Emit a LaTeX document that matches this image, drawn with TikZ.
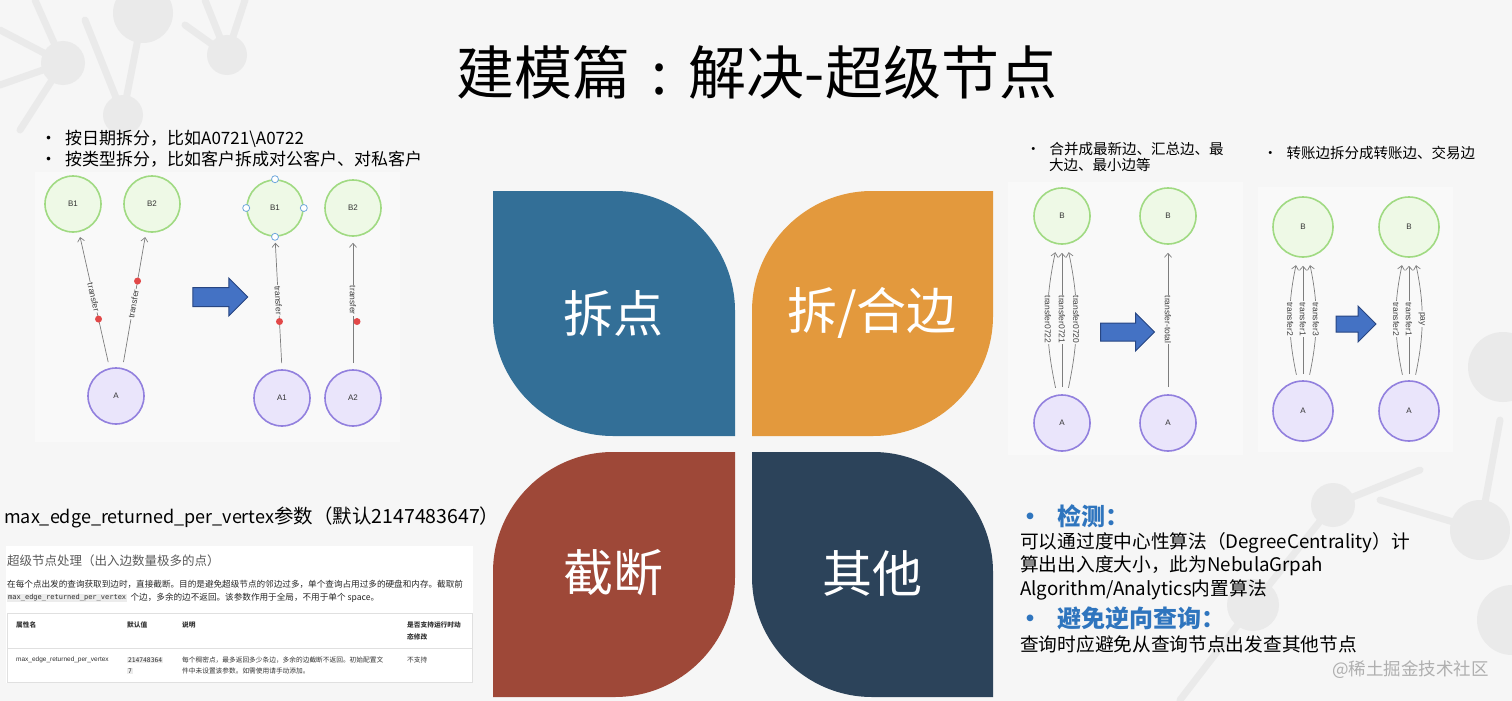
\documentclass[tikz,border=0pt]{standalone}
\usepackage{fontspec}
\setmainfont{Noto Sans CJK SC}
\newfontfamily\lat{Liberation Sans}
\newfontfamily\monof{DejaVu Sans Mono}
\usetikzlibrary{calc,arrows.meta,shapes.arrows}
\definecolor{bg}{RGB}{246,246,246}
\definecolor{panel}{RGB}{249,249,249}
\definecolor{mol}{RGB}{234,234,234}
\definecolor{pblue}{RGB}{51,111,151}
\definecolor{porange}{RGB}{227,153,61}
\definecolor{pred}{RGB}{158,72,56}
\definecolor{pnavy}{RGB}{44,67,90}
\definecolor{nodegreen}{RGB}{160,218,130}
\definecolor{nodegreenfill}{RGB}{238,249,230}
\definecolor{nodepurple}{RGB}{146,128,222}
\definecolor{nodepurplefill}{RGB}{234,229,251}
\definecolor{edgegray}{RGB}{125,125,125}
\definecolor{dotred}{RGB}{226,72,72}
\definecolor{handleblue}{RGB}{111,168,220}
\definecolor{arrowblue}{RGB}{68,114,196}
\definecolor{arrowdark}{RGB}{40,70,130}
\definecolor{headblue}{RGB}{47,117,190}
\definecolor{wmgray}{RGB}{175,175,175}
\definecolor{tgray}{RGB}{90,90,90}
\definecolor{codebg}{RGB}{236,236,236}
\tikzset{
  gnode/.style={circle, minimum size=56pt, inner sep=0pt, line width=1.6pt, font=\lat\fontsize{8}{9}\selectfont, text=black!80},
  gB/.style={gnode, draw=nodegreen, fill=nodegreenfill},
  gA/.style={gnode, draw=nodepurple, fill=nodepurplefill},
  edge/.style={draw=edgegray, line width=0.7pt, -{Straight Barb[length=4pt,width=7pt]}},
  elabel/.style={font=\lat\fontsize{8.5}{9}\selectfont, text=black!75, fill=panel, inner sep=1pt},
  reddot/.style={circle, fill=dotred, minimum size=7pt, inner sep=0pt},
  handle/.style={circle, draw=handleblue, fill=white, line width=0.8pt, minimum size=7pt, inner sep=0pt},
  bigarrow/.style={single arrow, fill=arrowblue, draw=arrowdark, line width=1pt},
  petaltext/.style={text=white, font=\fontsize{50}{54}\selectfont},
  txt/.style={anchor=west, inner sep=0pt, text=black},
  tbl/.style={anchor=west, inner sep=0pt, text=black!80, font=\fontsize{6.7}{8}\selectfont},
}
\begin{document}
\begin{tikzpicture}[x=1pt,y=-1pt]
\useasboundingbox (0,0) rectangle (1512,701);
\fill[bg] (0,0) rectangle (1512,701);
% faint background molecules
\begin{scope}[mol, line width=7pt, line cap=round]
  \draw (143,13) -- (123,115);
  \draw (63,63) -- (0,30);
  \draw (63,63) -- (0,85);
  \draw (63,63) -- (35,0);
  \draw (63,63) -- (20,130);
  \draw (227,55) -- (205,0);
  \draw (227,55) -- (245,0);
  \draw (227,55) -- (185,25);
  \draw (123,115) -- (85,20);
  \draw (1480,530) -- (1380,500);
  \draw (1480,530) -- (1500,420);
  \draw (1253,605) -- (1333,505);
  \draw (1253,605) -- (1180,700);
  \draw (1333,505) -- (1420,470);
  \fill (143,13) circle (30);
  \fill (227,55) circle (20);
  \fill (63,63) circle (22);
  \fill (123,115) circle (20);
  \fill (1503,367) circle (35);
  \fill (1480,530) circle (30);
  \fill (1512,620) circle (35);
  \fill (1253,605) circle (26);
  \fill (1333,505) circle (22);
\end{scope}
% screenshot panels
\fill[panel] (35,172) rectangle (400,442);
\fill[panel] (1008,182) rectangle (1243,455);
\fill[panel] (1258,187) rectangle (1453,452);

% title
\node[inner sep=0pt, font=\fontsize{58}{62}\selectfont] (title) at (757,72) {建模篇\makebox[1em][c]{:}解决-超级节点};

% petals
\fill[pblue] (493,191) -- (615,191) .. controls (681,191) and (735,245) .. (735,311) -- (735,436) -- (613,436) .. controls (547,436) and (493,382) .. (493,316) -- cycle;
\fill[porange] (752,311) .. controls (752,245) and (806,191) .. (872,191) -- (993,191) -- (993,316) .. controls (993,382) and (939,436) .. (873,436) -- (752,436) -- cycle;
\fill[pred] (493,572) .. controls (493,506) and (547,452) .. (613,452) -- (735,452) -- (735,577) .. controls (735,643) and (681,697) .. (615,697) -- (493,697) -- cycle;
\fill[pnavy] (752,452) -- (873,452) .. controls (939,452) and (993,506) .. (993,572) -- (993,697) -- (872,697) .. controls (806,697) and (752,643) .. (752,577) -- cycle;
\node[petaltext] (p1) at (613,313) {拆点};
\node[petaltext] (p2) at (872,313) {拆/合边};
\node[petaltext] (p3) at (613,573) {截断};
\node[petaltext] (p4) at (872,573) {其他};

% ---- top-left: split vertex
\node[txt, font=\fontsize{17}{20}\selectfont] (tl1) at (40,139) {•\hspace{8pt}按日期拆分，比如A0721\textbackslash A0722};
\node[txt, font=\fontsize{17}{20}\selectfont] (tl2) at (40,159) {•\hspace{8pt}按类型拆分，比如客户拆成对公客户、对私客户};

\node[gB] (b1) at (73,204) {B1};
\node[gB] (b2) at (152,204) {B2};
\node[gA] (a) at (116,396) {A};
\draw[edge, shorten <=6pt, shorten >=5pt] (a.103) -- (b1.-78)
  node[elabel, pos=0.52, rotate=-77] (l1) {transfer}
  node[reddot, pos=0.36] (d1) {};
\draw[edge, shorten <=6pt, shorten >=5pt] (a.77) -- (b2.-102)
  node[elabel, pos=0.47, rotate=80] (l2) {transfer}
  node[reddot, pos=0.64] (d2) {};

\node[bigarrow, minimum height=55pt, inner sep=9pt, single arrow head extend=9.5pt] (ar1) at (215.5,297) {};

\node[gB] (rb1) at (275,208) {B1};
\node[gB] (rb2) at (353,208) {B2};
\node[gA] (ra1) at (282,398) {A1};
\node[gA] (ra2) at (353,398) {A2};
\foreach \an in {north,south,east,west} \node[handle] (h-\an) at (rb1.\an) {};
\draw[edge, shorten <=6pt, shorten >=6pt] (ra1.north) -- (rb1.south)
  node[elabel, pos=0.52, rotate=-87] (l3) {transfer}
  node[reddot, pos=0.36] (d3) {};
\draw[edge, shorten <=6pt, shorten >=6pt] (ra2.north) -- (rb2.south)
  node[elabel, pos=0.52, rotate=-90] (l4) {transfer}
  node[reddot, pos=0.36, xshift=4pt] (d4) {};

% ---- top-right: merge edges
\node[txt, font=\fontsize{14.5}{16}\selectfont, align=left, anchor=north west] (tr1) at (1026,142) {•\hspace{9pt}合并成最新边、汇总边、最\\\hspace{23pt}大边、最小边等};
\node[gB] (mb1) at (1062,216) {B};
\node[gA] (ma1) at (1062,423) {A};
\node[gB] (mb2) at (1168,216) {B};
\node[gA] (ma2) at (1168,423) {A};
\draw[edge, shorten <=7pt, shorten >=8pt] (ma1.100) to[bend left=12] node[elabel, rotate=-90] (l5) {transfer0722} (mb1.-100);
\draw[edge, shorten <=7pt, shorten >=8pt] (ma1.north) -- node[elabel, rotate=-90] (l6) {transfer0721} (mb1.south);
\draw[edge, shorten <=7pt, shorten >=8pt] (ma1.80) to[bend right=12] node[elabel, rotate=-90] (l7) {transfer0720} (mb1.-80);
\node[bigarrow, minimum height=54pt, inner sep=8.5pt, single arrow head extend=10pt] (ar2) at (1123,332) {};
\draw[edge, shorten <=7pt, shorten >=8pt] (ma2.north) -- node[elabel, rotate=-90] (l8) {transfer-total} (mb2.south);

% ---- far right: split edge types
\node[txt, font=\fontsize{14.5}{16}\selectfont] (tr2) at (1263,153) {•\hspace{9pt}转账边拆分成转账边、交易边};
\node[gB, minimum size=60pt] (sb1) at (1303,227) {B};
\node[gA, minimum size=60pt] (sa1) at (1303,411) {A};
\node[gB, minimum size=60pt] (sb2) at (1409,227) {B};
\node[gA, minimum size=60pt] (sa2) at (1409,411) {A};
\draw[edge, shorten <=6pt, shorten >=8pt] (sa1.100) to[bend left=12] node[elabel, rotate=-90] (l9) {transfer2} (sb1.-100);
\draw[edge, shorten <=6pt, shorten >=8pt] (sa1.north) -- node[elabel, rotate=-90] (l10) {transfer1} (sb1.south);
\draw[edge, shorten <=6pt, shorten >=8pt] (sa1.80) to[bend right=12] node[elabel, rotate=-90] (l11) {transfer3} (sb1.-80);
\node[bigarrow, minimum height=40pt, inner sep=7.5pt, single arrow head extend=10pt] (ar3) at (1352,324) {};
\draw[edge, shorten <=6pt, shorten >=8pt] (sa2.100) to[bend left=12] node[elabel, rotate=-90] (l12) {transfer2} (sb2.-100);
\draw[edge, shorten <=6pt, shorten >=8pt] (sa2.north) -- node[elabel, rotate=-90] (l13) {transfer1} (sb2.south);
\draw[edge, shorten <=6pt, shorten >=8pt] (sa2.80) to[bend right=12] node[elabel, rotate=-90] (l14) {pay} (sb2.-80);

% ---- bottom-left: truncation
\node[txt, font=\fontsize{18}{20}\selectfont] (bl0) at (4,517) {max\_edge\_returned\_per\_vertex{\fontsize{19.5}{20}\selectfont 参数（默认2147483647）}};
\fill[white] (6,546) rectangle (473,683);
\node[txt, text=tgray, font=\fontsize{12.5}{14}\selectfont] (bl1) at (7,561) {超级节点处理（出入边数量极多的点）};
\node[txt, font=\fontsize{8.6}{10}\selectfont, text=black!85] (bl2) at (7,584) {在每个点出发的查询获取到边时，直接截断。目的是避免超级节点的邻边过多，单个查询占用过多的硬盘和内存。截取前};
\node[txt, fill=codebg, inner sep=1pt, font=\monof\fontsize{7}{8}\selectfont, text=black!80] (bl3) at (7,598) {max\_edge\_returned\_per\_vertex};
\node[txt, font=\fontsize{8.6}{10}\selectfont, text=black!85, anchor=west] (bl4) at ([xshift=3pt]bl3.east) {个边，多余的边不返回。该参数作用于全局，不用于单个 space。};
\draw[black!12, line width=0.6pt] (7,613) rectangle (472,682);
\draw[black!12, line width=0.6pt] (7,648) -- (472,648);
\node[tbl, font=\bfseries\fontsize{6.7}{8}\selectfont] (th1) at (16,625) {属性名};
\node[tbl, font=\bfseries\fontsize{6.7}{8}\selectfont] (th2) at (127,625) {默认值};
\node[tbl, font=\bfseries\fontsize{6.7}{8}\selectfont] (th3) at (182,625) {说明};
\node[tbl, font=\bfseries\fontsize{6.7}{8}\selectfont] (th4) at (407,625) {是否支持运行时动};
\node[tbl, font=\bfseries\fontsize{6.7}{8}\selectfont] (th5) at (407,637) {态修改};
\node[tbl, font=\lat\fontsize{6.5}{8}\selectfont] (td1) at (16,660) {max\_edge\_returned\_per\_vertex};
\node[tbl, fill=codebg, inner sep=0.8pt, font=\monof\fontsize{6.3}{8}\selectfont] (td2) at (127,660) {214748364};
\node[tbl, fill=codebg, inner sep=0.8pt, font=\monof\fontsize{6.3}{8}\selectfont] (td3) at (127,671) {7};
\node[tbl] (td4) at (182,660) {每个稠密点，最多返回多少条边，多余的边截断不返回。初始配置文};
\node[tbl] (td5) at (182,671) {件中未设置该参数。如需使用请手动添加。};
\node[tbl] (td6) at (407,660) {不支持};

% ---- bottom-right: others
\node[txt, text=headblue, font=\bfseries\fontsize{24}{26}\selectfont] (br1) at (1018,516) {•\hspace{15pt}检测：};
\node[txt, font=\fontsize{18.7}{22}\selectfont] (br2) at (1020,543) {可以通过度中心性算法（DegreeCentrality）计};
\node[txt, font=\fontsize{18.7}{22}\selectfont] (br3) at (1020,566) {算出出入度大小，此为NebulaGrpah};
\node[txt, font=\fontsize{18.7}{22}\selectfont] (br4) at (1020,590) {Algorithm/Analytics内置算法};
\node[txt, text=headblue, font=\bfseries\fontsize{24}{26}\selectfont] (br5) at (1018,618) {•\hspace{15pt}避免逆向查询：};
\node[txt, font=\fontsize{18.7}{22}\selectfont] (br6) at (1020,644) {查询时应避免从查询节点出发查其他节点};
\node[txt, text=wmgray, font=\fontsize{17.5}{20}\selectfont] (wm) at (1332,670) {@稀土掘金技术社区};
\end{tikzpicture}
\end{document}
